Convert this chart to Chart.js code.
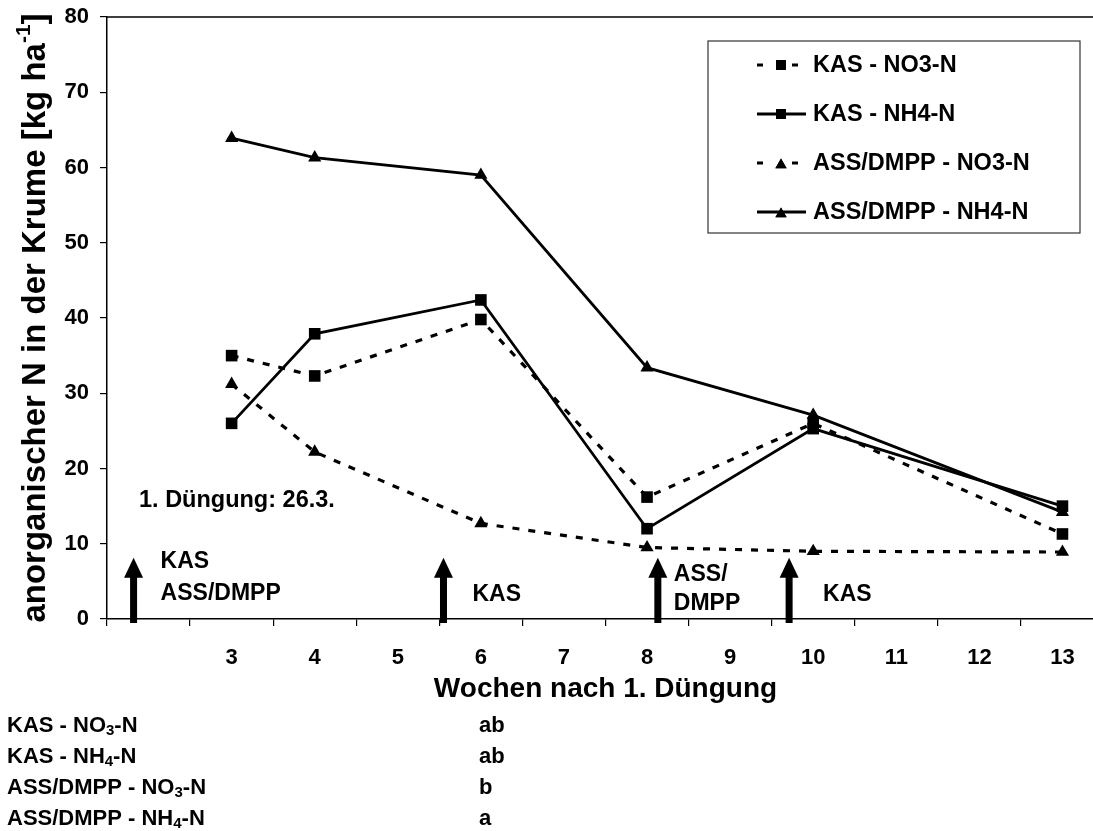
<!DOCTYPE html>
<html>
<head>
<meta charset="utf-8">
<script src="https://cdn.jsdelivr.net/npm/chart.js@4.4.0/dist/chart.umd.min.js"></script>
<style>
  html, body { margin: 0; padding: 0; background: #fff; overflow: hidden; }
  #wrap { width: 1120px; height: 831px; }
</style>
</head>
<body>
<div id="wrap"><canvas id="nChart" width="1120" height="831"></canvas></div>
<script>
// weeks after the first fertilisation
const weekLabels = [3, 4, 5, 6, 7, 8, 9, 10, 11, 12, 13];
const sampleWeeks = [3, 4, 6, 8, 10, 13];

// inorganic N in topsoil, kg/ha
const kasNO3 = [35.0, 32.3, 39.8, 16.2, 26.0, 11.3];
const kasNH4 = [26.0, 37.9, 42.4, 12.0, 25.3, 15.0];
const assNO3 = [31.2, 22.2, 12.7, 9.5, 9.0, 8.9];
const assNH4 = [63.9, 61.3, 59.0, 33.4, 27.1, 14.2];

const seriesNames = ['KAS - NO3-N', 'KAS - NH4-N', 'ASS/DMPP - NO3-N', 'ASS/DMPP - NH4-N'];

// fertiliser applications (week) and their labels
const fertWeeks = [1.82, 5.55, 8.13, 9.71];
const fertLabels = [['KAS', 'ASS/DMPP'], ['KAS'], ['ASS/', 'DMPP'], ['KAS']];

// significance letters below the chart
const statRows = [['KAS - NO', '3', '-N'], ['KAS - NH', '4', '-N'], ['ASS/DMPP - NO', '3', '-N'], ['ASS/DMPP - NH', '4', '-N']];
const statLetters = ['ab', 'ab', 'b', 'a'];

const FONT = '"Liberation Sans", Arial, sans-serif';

function pairs(values) {
  return sampleWeeks.map((w, i) => ({ x: w, y: values[i] }));
}

function series(label, values, dashed, style) {
  return {
    label: label,
    data: pairs(values),
    borderColor: '#000',
    backgroundColor: '#000',
    borderWidth: dashed ? 3.2 : 2.8,
    borderDash: dashed ? [7, 9] : [],
    pointStyle: style,
    pointRadius: style === 'rect' ? 8.2 : 7.6,
    pointBackgroundColor: '#000',
    pointBorderWidth: 0,
    tension: 0
  };
}

function drawRich(ctx, parts, x, y) {
  // parts: [text, kind, size] with kind '' | 'sub' | 'sup'
  let cx = x;
  parts.forEach(([t, kind, size]) => {
    ctx.font = 'bold ' + size + 'px ' + FONT;
    const dy = kind === 'sub' ? size * 0.35 : kind === 'sup' ? -size * 0.55 : 0;
    ctx.fillText(t, cx, y + dy);
    cx += ctx.measureText(t).width;
  });
  return cx - x;
}

function richWidth(ctx, parts) {
  let w = 0;
  parts.forEach(([t, kind, size]) => {
    ctx.font = 'bold ' + size + 'px ' + FONT;
    w += ctx.measureText(t).width;
  });
  return w;
}

const decorations = {
  id: 'decorations',
  afterDraw(chart) {
    const { ctx, chartArea: a, scales } = chart;
    const xs = scales.x, ys = scales.y;
    ctx.save();
    ctx.fillStyle = '#000';
    ctx.strokeStyle = '#000';

    // top and right frame of the plot area
    ctx.lineWidth = 1.5;
    ctx.beginPath();
    ctx.moveTo(a.left, a.top);
    ctx.lineTo(a.right, a.top);
    ctx.lineTo(a.right, a.bottom);
    ctx.stroke();

    // y axis title with superscript
    const yParts = [['anorganischer N in der Krume [kg ha', '', 33], ['-1', 'sup', 21], [']', '', 33]];
    const yw = richWidth(ctx, yParts);
    ctx.save();
    ctx.translate(36, 318);
    ctx.rotate(-Math.PI / 2);
    ctx.textBaseline = 'middle';
    ctx.textAlign = 'left';
    drawRich(ctx, yParts, -yw / 2, 0);
    ctx.restore();

    // x axis title
    ctx.font = 'bold 28px ' + FONT;
    ctx.textAlign = 'center';
    ctx.textBaseline = 'middle';
    ctx.fillText('Wochen nach 1. Düngung', (a.left + a.right) / 2, 689);

    // fertiliser arrows
    const base = ys.getPixelForValue(0) + 4;
    const tip = ys.getPixelForValue(8.15);
    const labelDx = [27, 29, 16, 34];
    const labelY = [[562, 594], [595], [575, 604], [595]];
    fertWeeks.forEach((w, i) => {
      const px = xs.getPixelForValue(w);
      ctx.fillRect(px - 3.5, tip + 18, 7, base - tip - 18);
      ctx.beginPath();
      ctx.moveTo(px, tip);
      ctx.lineTo(px + 9.5, tip + 20);
      ctx.lineTo(px - 9.5, tip + 20);
      ctx.closePath();
      ctx.fill();
      ctx.font = 'bold 23px ' + FONT;
      ctx.textAlign = 'left';
      ctx.textBaseline = 'middle';
      fertLabels[i].forEach((t, j) => ctx.fillText(t, px + labelDx[i], labelY[i][j]));
    });

    // date of the first application
    ctx.font = 'bold 23.5px ' + FONT;
    ctx.textAlign = 'left';
    ctx.textBaseline = 'alphabetic';
    ctx.fillText('1. Düngung: 26.3.', 139, 507);

    // legend
    const lx = 708, ly = 41, lw = 372, lh = 192;
    ctx.lineWidth = 1.2;
    ctx.strokeStyle = '#333';
    ctx.strokeRect(lx, ly, lw, lh);
    ctx.strokeStyle = '#000';
    chart.data.datasets.forEach((ds, i) => {
      const cy = 65 + i * 49;
      ctx.lineWidth = 2.8;
      ctx.setLineDash([]);
      ctx.beginPath();
      if (ds.borderDash.length) {
        ctx.moveTo(757, cy); ctx.lineTo(763, cy);
        ctx.moveTo(792, cy); ctx.lineTo(798, cy);
      } else {
        ctx.moveTo(757, cy); ctx.lineTo(806, cy);
      }
      ctx.stroke();
      Chart.helpers.drawPoint(ctx, { pointStyle: ds.pointStyle, radius: ds.pointStyle === 'rect' ? 7 : 6.5, borderWidth: 0 }, 781, cy + (ds.pointStyle === 'rect' ? 0 : 2));
      ctx.fill();
      ctx.font = 'bold 23.5px ' + FONT;
      ctx.textAlign = 'left';
      ctx.textBaseline = 'middle';
      ctx.fillText(ds.label, 813, cy + 1);
    });

    // significance table
    ctx.textAlign = 'left';
    ctx.textBaseline = 'middle';
    statRows.forEach((r, i) => {
      const cy = 726 + i * 31;
      drawRich(ctx, [[r[0], '', 22], [r[1], 'sub', 15], [r[2], '', 22]], 7, cy);
      ctx.font = 'bold 22px ' + FONT;
      ctx.fillText(statLetters[i], 479, cy);
    });

    ctx.restore();
  }
};

new Chart(document.getElementById('nChart'), {
  type: 'line',
  data: {
    datasets: [
      series(seriesNames[0], kasNO3, true, 'rect'),
      series(seriesNames[1], kasNH4, false, 'rect'),
      series(seriesNames[2], assNO3, true, 'triangle'),
      series(seriesNames[3], assNH4, false, 'triangle')
    ]
  },
  options: {
    responsive: false,
    animation: false,
    events: [],
    layout: { padding: { top: 17, right: 16, left: 0, bottom: 0 } },
    plugins: { legend: { display: false }, tooltip: { enabled: false } },
    scales: {
      x: {
        type: 'linear',
        min: 1.5,
        max: 13.5,
        afterBuildTicks: s => {
          const t = [];
          for (let v = 1.5; v <= 13.5; v += 0.5) t.push({ value: v });
          s.ticks = t;
        },
        afterFit: s => {
          s.height = 212;
          s.paddingLeft = 0;
          s.paddingRight = 0;
        },
        ticks: {
          autoSkip: false,
          maxRotation: 0,
          padding: 19,
          color: '#000',
          font: { family: FONT, size: 22, weight: 'bold' },
          callback: v => weekLabels.includes(v) ? String(v) : ''
        },
        grid: {
          drawOnChartArea: false,
          tickLength: 7,
          lineWidth: 1.2,
          color: c => (c.tick && c.tick.value % 1 !== 0) ? '#000' : 'rgba(0,0,0,0)'
        },
        border: { color: '#000', width: 1.5 }
      },
      y: {
        min: 0,
        max: 80,
        afterFit: s => {
          s.width = 107;
          s.paddingTop = 0;
          s.paddingBottom = 0;
        },
        ticks: {
          stepSize: 10,
          padding: 11,
          color: '#000',
          font: { family: FONT, size: 22, weight: 'bold' }
        },
        grid: { drawOnChartArea: false, tickLength: 7, lineWidth: 1.2, color: '#000' },
        border: { color: '#000', width: 1.5 }
      }
    }
  },
  plugins: [decorations]
});
</script>
</body>
</html>
